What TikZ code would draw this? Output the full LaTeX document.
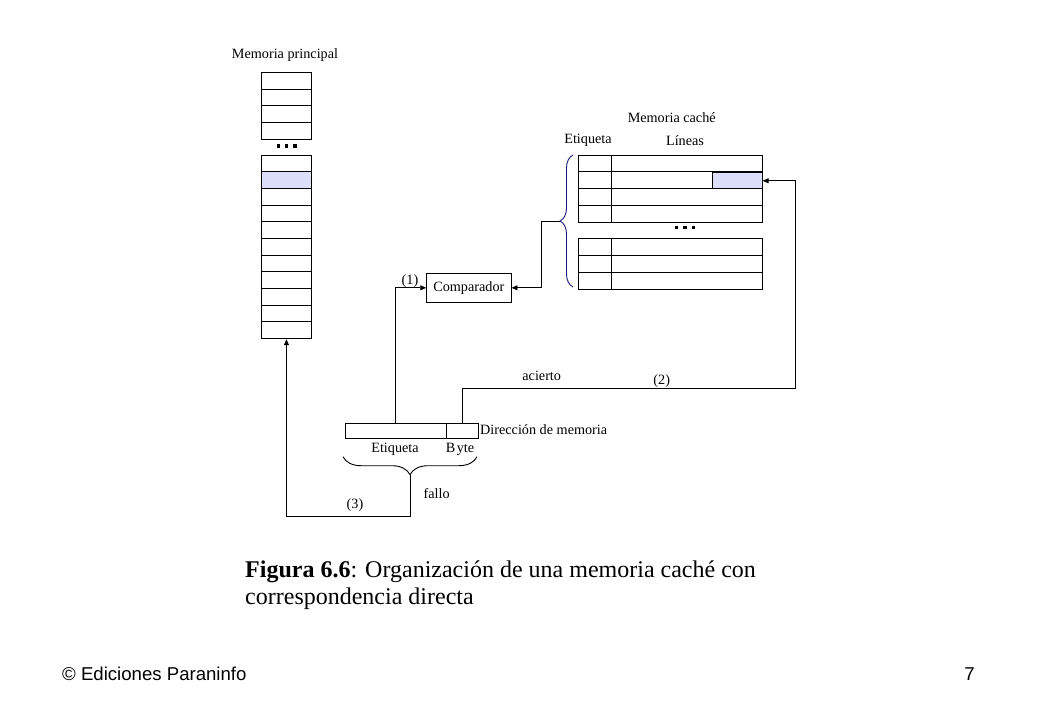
\documentclass[tikz,border=0pt]{standalone}
\usepackage{fontspec}
\setmainfont{Liberation Serif}
\newfontfamily\arialfont{Liberation Sans}
\usetikzlibrary{arrows.meta,decorations.pathreplacing,calc}
\definecolor{hl}{RGB}{220,222,250}
\definecolor{bracenavy}{RGB}{25,25,115}
\begin{document}
\begin{tikzpicture}[x=1pt,y=-1pt,
  lbl/.style={font=\fontsize{14.2}{16}\selectfont, inner sep=0pt},
  cell/.style={draw, line width=0.9pt, inner sep=0pt, anchor=north west},
  conn/.style={line width=0.9pt},
  arr/.style={conn,-{Triangle[length=6pt,width=5pt]}},
  bracestyle/.style={decorate, line width=0.9pt},
]
\useasboundingbox (0,0) rectangle (1040,720);
\fill[white] (0,0) rectangle (1040,720);

% ---------- Main memory ----------
\node[lbl] (mptitle) at (285,55) {Memoria principal};
\node[cell, minimum width=50, minimum height=66.7] (mmtop) at (261,72.3) {};
\foreach \i in {1,2,3} \draw[conn] (261,{72.3+16.675*\i}) -- (311,{72.3+16.675*\i});
\foreach \x in {278.3,286.7,295} \fill (\x-1.6,144.4) rectangle (\x+1.6,147.6);
\fill[hl] (261,172) rectangle (311,188.3);
\node[cell, minimum width=50, minimum height=183] (mm) at (261,155.3) {};
\foreach \i in {1,...,10} \draw[conn] (261,{155.3+16.636*\i}) -- (311,{155.3+16.636*\i});

% ---------- Cache ----------
\node[lbl] (mctitle) at (671.7,118) {Memoria caché};
\node[lbl] (cetq) at (588,140.7) {Etiqueta};
\node[lbl] (clin) at (685,140.7) {Líneas};
\node[cell, fill=hl, minimum width=50, minimum height=16] (hlcell) at (711.7,172.3) {};
\node[cell, minimum width=183.4, minimum height=67.3] (cup) at (578.3,155) {};
\foreach \i in {1,2,3} \draw[conn] (578.3,{155+16.83*\i}) -- (761.7,{155+16.83*\i});
\draw[conn] (611.7,155) -- (611.7,222.3);
\foreach \x in {676.7,685,693.3} \fill (\x-1.6,226.1) rectangle (\x+1.6,229.3);
\node[cell, minimum width=183.4, minimum height=50.7] (clow) at (578.3,238.3) {};
\foreach \i in {1,2} \draw[conn] (578.3,{238.3+16.9*\i}) -- (761.7,{238.3+16.9*\i});
\draw[conn] (611.7,238.3) -- (611.7,289);
\draw[bracestyle, bracenavy, decoration={brace, amplitude=13pt}] (573,287) -- (573,155);
\coordinate (ctip) at (560,221);
\coordinate (cturn) at (541,221);

% ---------- Comparator ----------
\node[draw, line width=0.9pt, minimum width=84.3, minimum height=29, lbl] (comp) at (468.85,287.8) {Comparador};
\node[lbl] (l1) at (410,280.7) {(1)};

% ---------- Address register ----------
\node[cell, minimum width=100.7, minimum height=15.6] (etq) at (345,422.7) {};
\node[cell, minimum width=32.6, minimum height=15.6] (byte) at (445.7,422.7) {};
\node[lbl, anchor=west] (dir) at (480,430) {Dirección de memoria};
\node[lbl] (aetq) at (395,449) {Etiqueta};
\node[lbl] (abyte) at (460,449) {B\kern1.5pt yte};
\draw[bracestyle, decoration={brace, amplitude=18pt}] (477,456.7) -- (343,456.7);
\coordinate (atip) at (410.7,474.7);
\coordinate (fturn) at (410.7,516.7);
\coordinate (turn2) at (795,388.3);

\node[lbl] (acierto) at (541.7,376) {acierto};
\node[lbl] (l2) at (661.7,380.7) {(2)};
\node[lbl] (fallo) at (436.7,494) {fallo};
\node[lbl] (l3) at (355,505) {(3)};

% ---------- Connectors ----------
\draw[arr] (etq.north) |- (comp.west);
\draw[arr] (byte.north) |- (turn2) |- (hlcell.east);
\draw[arr] (ctip) -- (cturn) |- (comp.east);
\draw[arr] (atip) -- (fturn) -| (mm.south);

% ---------- Caption and footer ----------
\node[anchor=base west, inner sep=0pt, font=\fontsize{24}{28}\selectfont] (cap1) at (245,577) {\textbf{Figura 6.6}: Organización de una memoria caché con};
\node[anchor=base west, inner sep=0pt, font=\fontsize{24}{28}\selectfont] (cap2) at (245,604) {correspondencia directa};
\node[anchor=base west, inner sep=0pt, font=\arialfont\fontsize{18.6}{20}\selectfont] (foot) at (62,680) {© Ediciones Paraninfo};
\node[anchor=base east, inner sep=0pt, font=\arialfont\fontsize{18.6}{20}\selectfont] (page) at (975,680) {7};
\end{tikzpicture}
\end{document}
